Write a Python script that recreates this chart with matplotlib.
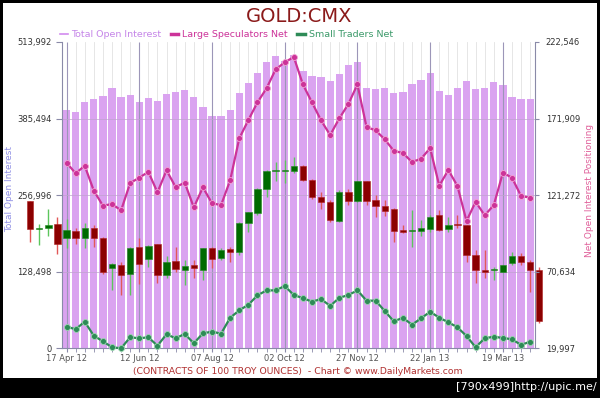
import numpy as np
import pandas as pd
import matplotlib
matplotlib.use('Agg')
from matplotlib import pyplot as plt
from matplotlib.lines import Line2D
from matplotlib.patches import Rectangle
from matplotlib.ticker import FixedLocator, FuncFormatter

# weekly COT reports
weeks = pd.date_range('2012-04-17', periods=52, freq='7D')

open_interest = [399400, 396500, 413300, 418800, 423400, 437300, 421200, 425000,
                 413300, 420000, 414500, 426200, 430600, 432900, 421700, 404900,
                 389800, 389800, 399900, 427900, 445700, 462000, 480400, 491000,
                 482000, 492000, 464800, 456900, 455700, 448500, 460800, 475400,
                 481000, 436300, 434600, 437300, 427900, 429600, 443000, 449700,
                 462500, 432300, 425000, 437300, 448500, 435100, 436300, 446800,
                 441800, 421700, 418800, 417800]

large_specs = [142700, 135700, 140700, 124200, 114300, 115400, 111200, 129300,
               132800, 136700, 123100, 137700, 126600, 129500, 113200, 126400,
               115900, 114700, 131100, 158800, 170900, 182600, 191900, 204400,
               209100, 212600, 194500, 182600, 170700, 161000, 172000, 181500,
               194500, 166300, 164100, 158200, 150600, 149100, 143200, 145300,
               152400, 127500, 137900, 127300, 104200, 116900, 107900, 114700,
               136100, 132800, 120700, 119600]

small_traders = [34300, 32600, 37600, 28300, 24600, 20700, 19997, 27300,
                 26600, 27300, 21700, 29300, 26600, 29500, 23300, 29900,
                 31000, 29700, 40200, 45100, 48800, 55000, 58300, 58300,
                 61200, 55200, 53200, 50800, 52600, 48000, 53400, 55200,
                 58300, 51500, 51500, 44700, 37800, 40200, 35600, 39800,
                 44200, 40200, 37200, 33900, 28100, 20700, 26600, 27700,
                 26800, 26000, 22200, 24400]

# gold price candles, the series starts 4 weeks before the first report
price_start = -4
price_open = [1693, 1612, 1616, 1627, 1588, 1608, 1586, 1616, 1588, 1500,
              1510, 1483, 1562, 1526, 1569, 1481, 1521, 1496, 1510, 1496,
              1558, 1529, 1556, 1548, 1629, 1659, 1726, 1778, 1778, 1779,
              1793, 1752, 1705, 1689, 1636, 1718, 1693, 1750, 1695, 1678,
              1669, 1610, 1607, 1607, 1613, 1653, 1612, 1627, 1624, 1538,
              1494, 1494, 1491, 1515, 1536, 1519, 1494]
price_high = [1693, 1626, 1669, 1646, 1640, 1615, 1629, 1624, 1591, 1515,
              1519, 1562, 1586, 1567, 1571, 1534, 1562, 1524, 1524, 1558,
              1562, 1558, 1560, 1633, 1662, 1729, 1781, 1805, 1809, 1819,
              1795, 1754, 1717, 1695, 1724, 1726, 1750, 1750, 1710, 1695,
              1672, 1624, 1667, 1638, 1653, 1667, 1648, 1653, 1624, 1553,
              1553, 1505, 1510, 1548, 1545, 1524, 1505]
price_low = [1575, 1567, 1593, 1541, 1558, 1569, 1559, 1560, 1483, 1439,
             1424, 1424, 1455, 1505, 1458, 1472, 1491, 1453, 1474, 1467,
             1500, 1524, 1519, 1538, 1605, 1653, 1705, 1748, 1743, 1773,
             1748, 1697, 1669, 1633, 1633, 1681, 1690, 1681, 1648, 1650,
             1576, 1600, 1562, 1593, 1605, 1608, 1605, 1615, 1519, 1458,
             1472, 1467, 1491, 1510, 1510, 1434, 1345]
price_close = [1613, 1616, 1624, 1570, 1610, 1586, 1616, 1586, 1491, 1512,
               1481, 1559, 1512, 1564, 1481, 1518, 1498, 1507, 1500, 1558,
               1527, 1553, 1548, 1629, 1660, 1726, 1778, 1780, 1780, 1793,
               1752, 1705, 1689, 1638, 1718, 1693, 1748, 1693, 1679, 1665,
               1608, 1605, 1609, 1616, 1648, 1610, 1624, 1623, 1538, 1496,
               1489, 1498, 1510, 1536, 1519, 1496, 1350]

oi_max = 513992
net_lim = (19997, 222546)
price_lim = (1272, 2146)

W, H = 600, 398
fig = plt.figure(figsize=(W / 100, H / 100), dpi=100, facecolor='black')
fig.patches.append(Rectangle((3 / W, 1 - 378 / H), 594 / W, 375 / H,
                             transform=fig.transFigure, facecolor='white',
                             edgecolor='none', zorder=-1))

ax = fig.add_axes([62 / W, 1 - 348.3 / H, (534.7 - 62) / W, (348.3 - 42) / H])
x = np.arange(len(weeks))
ax.bar(x, open_interest, width=0.8, color='#DAA3F0', zorder=1)
ax.set_xlim(-0.5, len(weeks) - 0.5)
ax.set_ylim(0, oi_max)

oi_ticks = np.linspace(0, oi_max, 5)
net_ticks = np.linspace(net_lim[0], net_lim[1], 5)
fmt = FuncFormatter(lambda v, p: '{:,.0f}'.format(v))

ax.set_axisbelow(True)
ax.set_xticks(x, minor=True)
ax.set_xticks(x[::8])
ax.set_xticklabels([d.strftime('%d %b %y') for d in weeks[::8]])
ax.grid(which='minor', axis='x', color='#E2E2E2', lw=0.6)
ax.vlines(x[::8], 0, oi_max, color='#9C96B8', lw=0.8, zorder=1.5)
ax.hlines(oi_ticks[1:-1], -0.5, len(weeks) - 0.5, color='#BFA2CF', lw=0.5, zorder=1.5)
ax.yaxis.set_major_locator(FixedLocator(oi_ticks))
ax.yaxis.set_major_formatter(fmt)

axis_col = '#8A8AA8'
ax.tick_params(axis='y', length=4, color=axis_col, labelsize=6, labelcolor='#333333', pad=3.6)
ax.tick_params(axis='x', which='both', length=3, color=axis_col, labelsize=6,
               labelcolor='#555555', pad=1.2)
for s in ('top', 'right'):
    ax.spines[s].set_visible(False)
for s in ('left', 'bottom'):
    ax.spines[s].set_color(axis_col)

# candles
axp = ax.twinx()
axp.set_ylim(*price_lim)
axp.axis('off')
cpos = np.arange(price_start, price_start + len(price_open))
po = np.array(price_open)
pc = np.array(price_close)
up = pc >= po
body_lo = np.minimum(po, pc)
body_h = np.maximum(np.abs(pc - po), 3)
wick_cols = np.where(up, '#5CC65C', '#E25858')
body_cols = np.where(up, '#006B00', '#8B0000')
edge_cols = np.where(up, '#1F8A1F', '#B02020')
wicks = axp.vlines(cpos, price_low, price_high, colors=wick_cols, lw=1, zorder=2)
wicks.set_clip_on(False)
bodies = axp.bar(cpos, body_h, bottom=body_lo, width=0.7, color=body_cols,
                 edgecolor=edge_cols, lw=0.4, zorder=3)
for p in bodies:
    p.set_clip_on(False)

# net positioning lines
ax2 = ax.twinx()
ax2.set_ylim(*net_lim)
ls_col = '#CC3399'
st_col = '#2E8B57'
ax2.plot(x, large_specs, color=ls_col, lw=1.6, marker='o', ms=4.3, mfc=ls_col,
         mec='#F2A6D4', mew=0.6, clip_on=False, zorder=3)
ax2.plot(x, small_traders, color=st_col, lw=1.6, marker='o', ms=4.3, mfc=st_col,
         mec='#9CD6B0', mew=0.6, clip_on=False, zorder=3)
ax2.yaxis.set_major_locator(FixedLocator(net_ticks))
ax2.yaxis.set_major_formatter(fmt)
ax2.tick_params(axis='y', length=3, color=axis_col, labelsize=6, labelcolor='#333333', pad=5)
for s in ('top', 'left', 'bottom'):
    ax2.spines[s].set_visible(False)
ax2.spines['right'].set_color(axis_col)

fig.text(9.5 / W, 1 - 188.5 / H, 'Total Open Interest', rotation=90, color='#8E8EE4',
         fontsize=6.5, ha='center', va='center')
fig.text(589 / W, 1 - 190 / H, 'Net Open Interest Positioning', rotation=90,
         color='#E0609A', fontsize=6.5, ha='center', va='center')

fig.text(299 / W, 1 - 21.7 / H, 'GOLD:CMX', color='#8B1A1A', fontsize=14,
         ha='center', va='baseline')

handles = [Line2D([], [], color='#D28BEF', lw=1.2),
           Line2D([], [], color=ls_col, lw=2.5),
           Line2D([], [], color=st_col, lw=2.5)]
labels = ['Total Open Interest', 'Large Speculators Net', 'Small Traders Net']
leg = fig.legend(handles, labels, loc='center left', bbox_to_anchor=(60 / W, 1 - 34.5 / H),
                 ncol=3, frameon=False, fontsize=6.8, handlelength=0.8,
                 handletextpad=0.4, columnspacing=1.0, borderpad=0, borderaxespad=0)
for t, c in zip(leg.get_texts(), ['#C585E8', ls_col, '#3C9A6A']):
    t.set_color(c)

fig.text(298 / W, 1 - 371 / H,
         '(CONTRACTS OF 100 TROY OUNCES)  - Chart \u00a9 www.DailyMarkets.com',
         color='#B03030', fontsize=6.7, ha='center', va='center_baseline')

fig.text(597 / W, 1 - 387 / H, '[790x499]http://upic.me/', color='white',
         fontsize=8, family=['Liberation Sans Narrow', 'DejaVu Sans'],
         ha='right', va='center')

fig.savefig('out.png', dpi=100, facecolor=fig.get_facecolor())
